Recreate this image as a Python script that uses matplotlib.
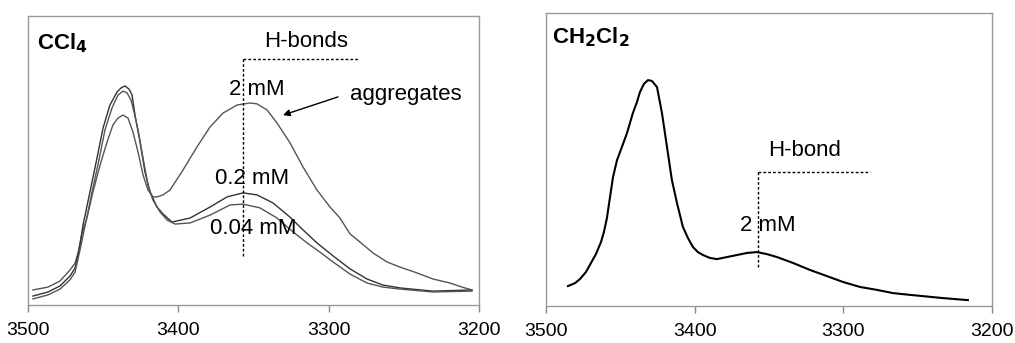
import matplotlib.pyplot as plt
import matplotlib

matplotlib.rcParams['font.family'] = ['Liberation Sans', 'DejaVu Sans']

# CCl4 panel: wavenumber (cm-1) and absorbance (arb. units)
wn_2mM = [3496.7, 3486.7, 3478.7, 3472.1, 3468.7, 3466.7, 3464.1, 3460.8, 3456.8, 3452.1, 3447.4,
          3443.5, 3440.1, 3436.8, 3433.5, 3430.2, 3426.8, 3423.5, 3420.2, 3416.9, 3414.2, 3410.2,
          3405.5, 3396.9, 3387.6, 3378.9, 3370.3, 3360.9, 3352.3, 3347.7, 3341.0, 3334.4, 3325.7,
          3317.1, 3307.8, 3299.1, 3292.5, 3285.8, 3279.2, 3270.5, 3261.2, 3252.5, 3241.2, 3230.6,
          3219.3, 3211.3, 3204.7]
ab_2mM = [0.052, 0.062, 0.083, 0.121, 0.145, 0.180, 0.249, 0.301, 0.391, 0.484, 0.564,
          0.623, 0.647, 0.657, 0.647, 0.599, 0.529, 0.450, 0.398, 0.374, 0.374, 0.381,
          0.398, 0.467, 0.547, 0.616, 0.664, 0.692, 0.699, 0.696, 0.675, 0.630, 0.561,
          0.478, 0.398, 0.339, 0.301, 0.246, 0.218, 0.180, 0.149, 0.131, 0.111, 0.090,
          0.076, 0.062, 0.052]

wn_02mM = [3496.7, 3486.7, 3478.7, 3472.1, 3468.7, 3465.4, 3463.4, 3458.8, 3454.1, 3450.1,
           3445.5, 3440.8, 3438.1, 3435.5, 3432.8, 3430.8, 3428.8, 3425.5, 3422.2, 3418.8,
           3414.2, 3410.2, 3404.2, 3392.2, 3378.9, 3367.6, 3357.0, 3347.7, 3337.0, 3325.7,
           3317.1, 3307.8, 3297.1, 3285.8, 3274.5, 3263.9, 3252.5, 3230.6, 3204.7]
ab_02mM = [0.031, 0.045, 0.066, 0.100, 0.128, 0.208, 0.277, 0.391, 0.509, 0.612,
           0.692, 0.737, 0.751, 0.758, 0.747, 0.727, 0.657, 0.564, 0.460, 0.391,
           0.339, 0.315, 0.287, 0.301, 0.339, 0.374, 0.388, 0.381, 0.353, 0.304,
           0.260, 0.215, 0.170, 0.125, 0.090, 0.069, 0.059, 0.048, 0.052]

wn_004mM = [3496.7, 3486.7, 3478.7, 3472.1, 3468.7, 3465.4, 3462.1, 3457.4, 3452.8, 3448.8,
            3444.1, 3440.1, 3436.8, 3434.1, 3431.5, 3429.5, 3426.8, 3423.5, 3420.2, 3416.9,
            3412.2, 3407.5, 3402.2, 3392.2, 3378.9, 3365.6, 3357.0, 3345.7, 3334.4, 3323.7,
            3314.4, 3305.8, 3297.1, 3285.8, 3274.5, 3263.9, 3252.5, 3230.6, 3204.7]
ab_004mM = [0.021, 0.035, 0.055, 0.087, 0.114, 0.190, 0.273, 0.391, 0.502, 0.606,
            0.682, 0.727, 0.740, 0.734, 0.709, 0.668, 0.606, 0.509, 0.415, 0.363,
            0.322, 0.294, 0.280, 0.284, 0.311, 0.346, 0.349, 0.336, 0.301, 0.253,
            0.215, 0.183, 0.149, 0.107, 0.076, 0.062, 0.055, 0.045, 0.048]

# CH2Cl2 panel
wn_dcm = [3485.2, 3480.5, 3477.1, 3473.1, 3469.7, 3466.4, 3463.0, 3461.0, 3459.0, 3457.0,
          3454.9, 3452.2, 3448.9, 3445.5, 3441.5, 3438.8, 3436.8, 3434.1, 3431.4, 3428.7,
          3425.3, 3422.0, 3418.6, 3415.3, 3411.9, 3407.9, 3404.5, 3401.1, 3397.8, 3394.4,
          3389.7, 3385.0, 3378.3, 3371.5, 3364.8, 3358.1, 3351.4, 3344.6, 3333.9, 3322.4,
          3311.0, 3300.2, 3288.8, 3277.4, 3266.6, 3255.2, 3233.0, 3216.2]
ab_dcm = [0.068, 0.078, 0.092, 0.116, 0.147, 0.177, 0.218, 0.253, 0.300, 0.369,
          0.440, 0.498, 0.543, 0.590, 0.659, 0.696, 0.730, 0.758, 0.771, 0.768,
          0.747, 0.659, 0.543, 0.430, 0.352, 0.270, 0.232, 0.201, 0.184, 0.174,
          0.164, 0.160, 0.167, 0.174, 0.181, 0.184, 0.177, 0.167, 0.147, 0.123,
          0.102, 0.082, 0.065, 0.055, 0.044, 0.038, 0.027, 0.020]

xticks = [3500, 3400, 3300, 3200]

fig = plt.figure(figsize=(10.15, 3.43), dpi=100)
ax1 = fig.add_axes([0.0276, 0.1108, 0.4443, 0.8426])
ax2 = fig.add_axes([0.5379, 0.1079, 0.4394, 0.8542])

for ax in (ax1, ax2):
    ax.set_xlim(3500, 3200)
    ax.set_ylim(0, 1)
    ax.set_xticks(xticks)
    ax.set_yticks([])
    for s in ax.spines.values():
        s.set_color('#999999')
        s.set_linewidth(1.0)
    ax.tick_params(axis='x', direction='out', length=5, width=1, color='#888888',
                   labelsize=14, pad=7)

ax1.plot(wn_2mM, ab_2mM, color='#555555', lw=1.0)
ax1.plot(wn_02mM, ab_02mM, color='#333333', lw=1.0)
ax1.plot(wn_004mM, ab_004mM, color='#555555', lw=1.0)

dash = dict(color='black', lw=1.0, ls=(0, (2, 1.5)))
ax1.plot([3357, 3357], [0.17, 0.851], **dash)
ax1.plot([3357, 3280.5], [0.851, 0.851], **dash)
ax1.text(3494, 0.905, r'CCl$_\mathbf{4}$', fontsize=16, fontweight='bold', va='center', ha='left')
ax1.text(3315, 0.91, 'H-bonds', fontsize=16, va='center', ha='center')
ax1.text(3348, 0.747, '2 mM', fontsize=16, va='center', ha='center')
ax1.text(3351, 0.439, '0.2 mM', fontsize=16, va='center', ha='center')
ax1.text(3350, 0.266, '0.04 mM', fontsize=16, va='center', ha='center')
ax1.text(3249, 0.727, 'aggregates', fontsize=16, va='center', ha='center')
ax1.annotate('', xy=(3330.4, 0.657), xytext=(3293.8, 0.72),
             arrowprops=dict(arrowstyle='-|>', color='black', lw=1.0, shrinkA=0, shrinkB=0,
                             mutation_scale=10))

ax2.plot(wn_dcm, ab_dcm, color='black', lw=1.5)
ax2.plot([3357.4, 3357.4], [0.133, 0.457], **dash)
ax2.plot([3357.4, 3282], [0.457, 0.457], **dash)
ax2.text(3496, 0.916, r'CH$_\mathbf{2}$Cl$_\mathbf{2}$', fontsize=16, fontweight='bold',
         va='center', ha='left')
ax2.text(3326, 0.532, 'H-bond', fontsize=16, va='center', ha='center')
ax2.text(3351, 0.276, '2 mM', fontsize=16, va='center', ha='center')

fig.savefig('out.png', dpi=100)
